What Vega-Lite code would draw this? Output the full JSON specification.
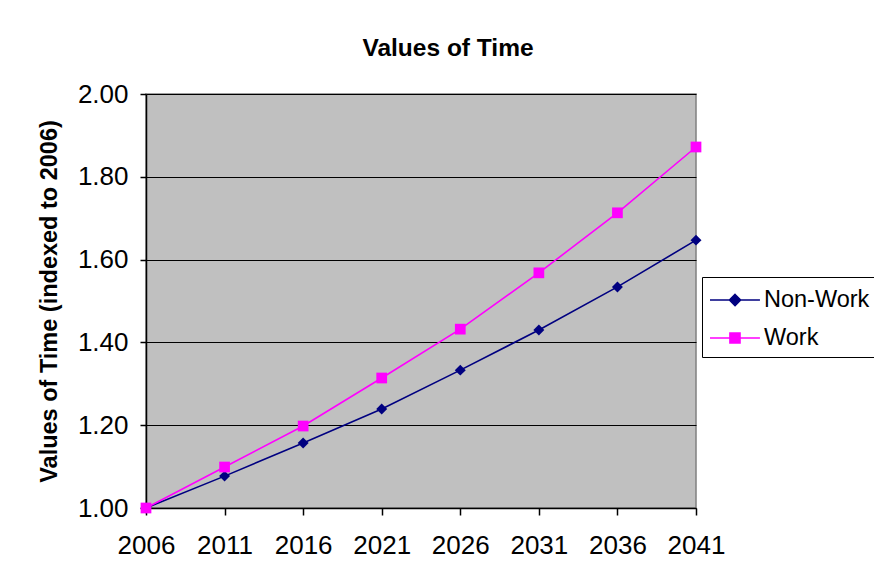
{
  "$schema": "https://vega.github.io/schema/vega-lite/v6.json",
  "autosize": {"type": "none"},
  "width": 550,
  "height": 414,
  "padding": {"left": 146, "top": 94, "right": 178, "bottom": 67},
  "background": "white",
  "config": {
    "font": "Liberation Sans",
    "view": {"fill": "#C0C0C0", "stroke": "#808080", "strokeWidth": 1.5}
  },
  "title": {
    "text": "Values of Time",
    "font": "Liberation Sans",
    "fontSize": 24.5,
    "fontWeight": "bold",
    "color": "black",
    "anchor": "middle",
    "frame": "group",
    "dx": 27,
    "baseline": "alphabetic",
    "offset": 1
  },
  "data": {
    "values": [
      {"year": 2006, "series": "Non-Work", "value": 1.0},
      {"year": 2011, "series": "Non-Work", "value": 1.077},
      {"year": 2016, "series": "Non-Work", "value": 1.157},
      {"year": 2021, "series": "Non-Work", "value": 1.239},
      {"year": 2026, "series": "Non-Work", "value": 1.333},
      {"year": 2031, "series": "Non-Work", "value": 1.43},
      {"year": 2036, "series": "Non-Work", "value": 1.534},
      {"year": 2041, "series": "Non-Work", "value": 1.647},
      {"year": 2006, "series": "Work", "value": 1.0},
      {"year": 2011, "series": "Work", "value": 1.099},
      {"year": 2016, "series": "Work", "value": 1.198},
      {"year": 2021, "series": "Work", "value": 1.314},
      {"year": 2026, "series": "Work", "value": 1.432},
      {"year": 2031, "series": "Work", "value": 1.568},
      {"year": 2036, "series": "Work", "value": 1.713},
      {"year": 2041, "series": "Work", "value": 1.872}
    ]
  },
  "encoding": {
    "x": {
      "field": "year",
      "type": "quantitative",
      "scale": {"domain": [2006, 2041], "nice": false, "zero": false},
      "axis": {
        "title": null,
        "values": [2006, 2011, 2016, 2021, 2026, 2031, 2036, 2041],
        "format": "d",
        "grid": false,
        "domainColor": "black",
        "domainWidth": 1.5,
        "tickColor": "black",
        "tickWidth": 1.5,
        "tickSize": 7,
        "labelPadding": 17,
        "labelFontSize": 26,
        "labelColor": "black",
        "labelFont": "Liberation Sans",
        "labelFlush": false,
        "labelOverlap": false
      }
    },
    "y": {
      "field": "value",
      "type": "quantitative",
      "scale": {"domain": [1.0, 2.0], "nice": false, "zero": false},
      "axis": {
        "title": "Values of Time (indexed to 2006)",
        "titleFontSize": 23.5,
        "titleFontWeight": "bold",
        "titleColor": "black",
        "titleFont": "Liberation Sans",
        "titlePadding": 16,
        "values": [1.0, 1.2, 1.4, 1.6, 1.8, 2.0],
        "format": ".2f",
        "grid": true,
        "gridColor": "black",
        "gridWidth": 1.2,
        "domainColor": "black",
        "domainWidth": 1.5,
        "tickColor": "black",
        "tickWidth": 1.5,
        "tickSize": 6,
        "labelPadding": 12,
        "labelFontSize": 26,
        "labelColor": "black",
        "labelFont": "Liberation Sans",
        "labelFlush": false
      }
    }
  },
  "layer": [
    {
      "mark": {"type": "line", "strokeWidth": 1.6},
      "encoding": {
        "color": {
          "field": "series",
          "type": "nominal",
          "scale": {"domain": ["Non-Work", "Work"], "range": ["#000080", "#FF00FF"]},
          "legend": {
            "title": null,
            "orient": "none",
            "legendX": 556,
            "legendY": 183,
            "direction": "vertical",
            "strokeColor": "black",
            "fillColor": "white",
            "padding": 7,
            "symbolSize": 900,
            "symbolStrokeWidth": 1.6,
            "rowPadding": 10,
            "labelOffset": 23,
            "labelFontSize": 23.5,
            "labelColor": "black",
            "labelFont": "Liberation Sans",
            "labelLimit": 300,
            "encode": {
              "symbols": {
                "update": {
                  "shape": {"signal": "datum.value === 'Work' ? 'M-1,0H2.33M0.33,-0.33H1V0.33H0.33Z' : 'M-1,0H2.33M0.67,-0.37L1.04,0L0.67,0.37L0.3,0Z'"},
                  "fill": {"signal": "datum.value === 'Work' ? '#FF00FF' : '#000080'"},
                  "stroke": {"signal": "datum.value === 'Work' ? '#FF00FF' : '#000080'"},
                  "fillOpacity": {"value": 1},
                  "opacity": {"value": 1}
                }
              }
            }
          }
        }
      }
    },
    {
      "transform": [{"filter": "datum.series === 'Non-Work'"}],
      "mark": {"type": "point", "filled": true, "opacity": 1, "size": 120, "shape": "diamond", "color": "#000080"},
      "encoding": {}
    },
    {
      "transform": [{"filter": "datum.series === 'Work'"}],
      "mark": {"type": "point", "filled": true, "opacity": 1, "size": 115, "shape": "square", "color": "#FF00FF"},
      "encoding": {}
    }
  ]
}
